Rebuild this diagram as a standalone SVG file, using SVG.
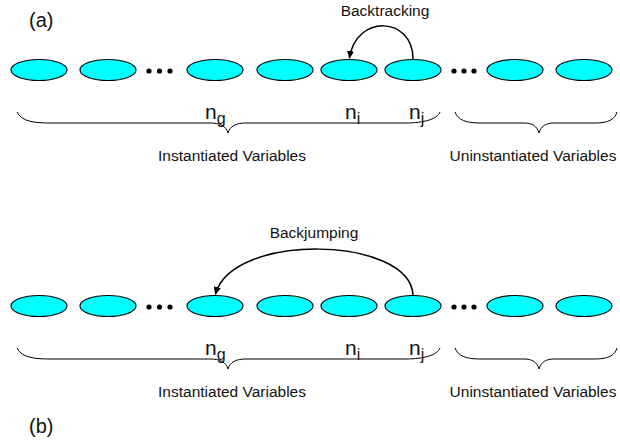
<svg xmlns="http://www.w3.org/2000/svg" width="620" height="443" viewBox="0 0 620 443">
  <style>
    .var { fill: #00ffff; stroke: #000; stroke-width: 1.1; }
    .dot { fill: #000; }
    .brace { fill: none; stroke: #000; stroke-width: 1; }
    .arc { fill: none; stroke: #000; stroke-width: 1.5; }
    .lbl { font-family: "Liberation Sans", Arial, sans-serif; font-size: 15.5px; fill: #111; }
    .tag { font-family: "Liberation Sans", Arial, sans-serif; font-size: 20px; fill: #111; }
    .idx { font-family: "Liberation Sans", Arial, sans-serif; font-size: 21px; fill: #111; }
    .sub { font-size: 16px; }
  </style>
  <defs>
    <marker id="head" markerWidth="8" markerHeight="8" refX="7" refY="4" orient="auto" markerUnits="userSpaceOnUse">
      <path d="M0,0.5 L8,4 L0,7.5 Z" fill="#000"/>
    </marker>
    <!-- one row of variables, drawn at cy = 0 and placed with <use> -->
    <g id="row">
      <ellipse class="var" cx="39" cy="0" rx="28" ry="10.5"/>
      <ellipse class="var" cx="108" cy="0" rx="28" ry="10.5"/>
      <circle class="dot" cx="149" cy="1" r="2.6"/>
      <circle class="dot" cx="159.5" cy="1" r="2.6"/>
      <circle class="dot" cx="170" cy="1" r="2.6"/>
      <ellipse class="var" cx="215" cy="0" rx="28" ry="10.5"/>
      <ellipse class="var" cx="285" cy="0" rx="28" ry="10.5"/>
      <ellipse class="var" cx="349" cy="0" rx="28" ry="10.5"/>
      <ellipse class="var" cx="413" cy="0" rx="28" ry="10.5"/>
      <circle class="dot" cx="454" cy="1" r="2.6"/>
      <circle class="dot" cx="464" cy="1" r="2.6"/>
      <circle class="dot" cx="474" cy="1" r="2.6"/>
      <ellipse class="var" cx="515" cy="0" rx="28" ry="10.5"/>
      <ellipse class="var" cx="584" cy="0" rx="28" ry="10.5"/>
    </g>
    <!-- braces, indices and captions under a row, drawn at brace line y = 0 -->
    <g id="labels">
      <path class="brace" d="M17,-11 C22,-1 35,0 52,0 L210,0 C220,0 226,3 228,10 C230,3 236,0 246,0 L405,0 C425,0 437,-4 440,-11"/>
      <path class="brace" d="M455,-11 C458,-3 466,0 480,0 L524,0 C532,0 537,3 539,10 C541,3 546,0 554,0 L595,0 C609,0 615,-4 617,-11"/>
      <text class="idx" x="205" y="-4">n<tspan class="sub" dy="5">g</tspan></text>
      <text class="idx" x="345" y="-4">n<tspan class="sub" dy="5">i</tspan></text>
      <text class="idx" x="409" y="-4">n<tspan class="sub" dy="5">j</tspan></text>
      <text class="lbl" x="232" y="38" text-anchor="middle">Instantiated Variables</text>
      <text class="lbl" x="533" y="38" text-anchor="middle">Uninstantiated Variables</text>
    </g>
  </defs>

  <!-- (a) chronological backtracking -->
  <text class="tag" x="29" y="27">(a)</text>
  <g id="row-a">
    <use href="#row" y="70"/>
  </g>
  <g id="labels-a">
    <use href="#labels" y="123"/>
  </g>
  <g id="connectors-a">
    <path class="arc" d="M413,59 C413,16 356,14 349.5,58" marker-end="url(#head)"/>
  </g>
  <text class="lbl" x="385" y="16" text-anchor="middle">Backtracking</text>

  <!-- (b) backjumping -->
  <g id="row-b">
    <use href="#row" y="306"/>
  </g>
  <g id="labels-b">
    <use href="#labels" y="359"/>
  </g>
  <g id="connectors-b">
    <path class="arc" d="M413,295 C410,236 232,232 215.5,294" marker-end="url(#head)"/>
  </g>
  <text class="lbl" x="314" y="238" text-anchor="middle">Backjumping</text>
  <text class="tag" x="29" y="433">(b)</text>
</svg>
